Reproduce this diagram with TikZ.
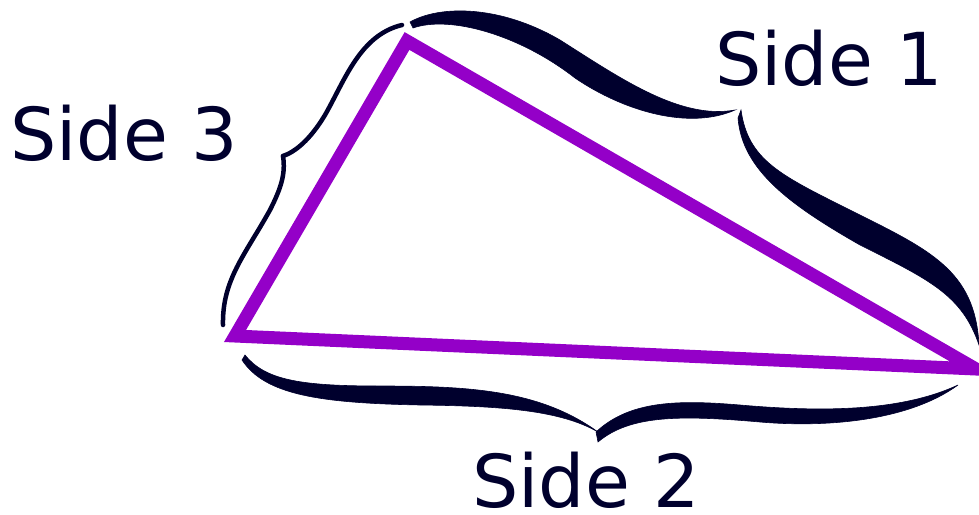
\documentclass[tikz,border=0pt]{standalone}
\usepackage{fontspec}
\usepackage{tikz}
\usetikzlibrary{positioning}
\newfontfamily\labelfont{DejaVu Sans}
\definecolor{Ink}{RGB}{0,0,45}
\definecolor{Violet}{RGB}{148,0,200}
\tikzset{
  sideline/.style={draw=Violet,line width=13pt,line join=miter},
  bracepart/.style={fill=Ink,draw=Ink,line width=0.6pt},
  thinbrace/.style={draw=Ink,line width=4.5pt,line cap=round,line join=round},
  sidelabel/.style={font=\labelfont\fontsize{73}{80}\selectfont,text=Ink,inner sep=0pt,anchor=base}
}
\begin{document}
\begin{tikzpicture}[x=1pt,y=-1pt]
\useasboundingbox (0,0) rectangle (979,514);
% corners of the triangle
\coordinate (top) at (407,41);
\coordinate (left) at (235,336);
\coordinate (right) at (976,369);
\draw[sideline] (top)--(right)--(left)--cycle;
% brace along side 1
\fill[bracepart] (410,22) .. controls (440,5) and (500,5) .. (560,40)
  .. controls (620,78) and (680,120) .. (735,110)
  .. controls (690,130) and (625,112) .. (575,78)
  .. controls (520,35) and (450,15) .. (413,28) -- cycle;
\fill[bracepart] (741,110) .. controls (748,160) and (780,175) .. (850,210)
  .. controls (930,250) and (975,270) .. (979,345)
  .. controls (962,295) and (930,280) .. (860,245)
  .. controls (790,205) and (742,170) .. (738,118) -- cycle;
% brace along side 3
\coordinate (tip3) at (283,156);
\draw[thinbrace] (402,25) .. controls (360,35) and (345,80) .. (325,115)
  .. controls (310,140) and (295,152) .. (tip3);
\draw[thinbrace] (tip3) .. controls (286,175) and (280,190) .. (270,210)
  .. controls (245,255) and (222,280) .. (223,325);
% brace along side 2
\fill[bracepart] (245,355) .. controls (265,380) and (300,386) .. (380,386)
  .. controls (470,386) and (540,390) .. (598,432)
  .. controls (560,410) and (500,406) .. (420,405)
  .. controls (320,403) and (265,395) .. (242,360) -- cycle;
\fill[bracepart] (596,432) .. controls (630,400) and (680,400) .. (740,405)
  .. controls (820,412) and (900,412) .. (958,385)
  .. controls (910,420) and (830,428) .. (760,422)
  .. controls (680,415) and (630,415) .. (598,442) -- cycle;
% labels
\node[sidelabel] (side1) at (829,85) {Side 1};
\node[sidelabel] (side3) at (124,160) {Side 3};
\node[sidelabel] (side2) at (586,507) {Side 2};
\end{tikzpicture}
\end{document}
